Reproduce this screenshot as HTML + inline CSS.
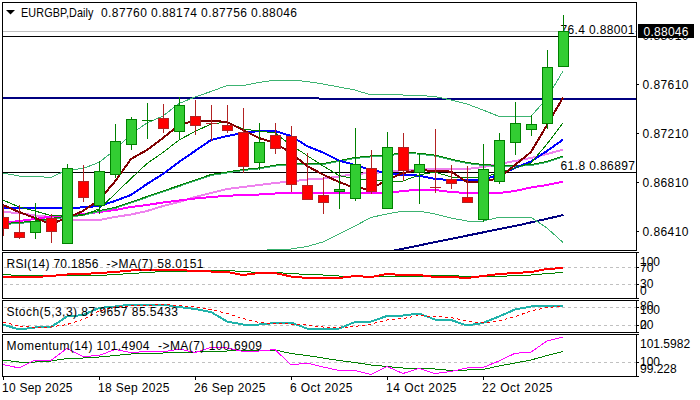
<!DOCTYPE html>
<html><head><meta charset="utf-8"><style>
html,body{margin:0;padding:0;background:#fff;width:700px;height:400px;overflow:hidden}
svg{display:block}
</style></head><body>
<svg width="700" height="400" viewBox="0 0 700 400">
<rect x="0" y="0" width="700" height="400" fill="#fff"/>
<defs><clipPath id="cm"><rect x="3" y="3" width="633" height="247"/></clipPath><clipPath id="cr"><rect x="3" y="253" width="633" height="45"/></clipPath><clipPath id="cs"><rect x="3" y="301" width="633" height="31"/></clipPath><clipPath id="cmo"><rect x="3" y="335" width="633" height="41"/></clipPath></defs><g clip-path="url(#cm)"><rect x="3" y="31" width="633" height="1" fill="#c0c0c0"/><rect x="3" y="36" width="633" height="1" fill="#000"/><rect x="3" y="172" width="633" height="1" fill="#000"/><rect x="3" y="97" width="316" height="2" fill="#000080"/><rect x="319" y="98" width="317" height="2" fill="#000080"/><polyline points="380,253.5 440,241.1 520,224.9 563.5,215" fill="none" stroke="#000080" stroke-width="2" shape-rendering="crispEdges"/><polyline points="3,173 19,176 35,176.5 51,177.4 67,170 83,168.5 99,162.4 115,150 131,134 147,123 163,116 179,103.5 195,97 211,91.5 227,85.5 243,85.5 259,82.5 275,80 291,80 307,81.5 323,84 339,87 355,90 371,95 387,94.4 403,95 419,95.5 435,96.5 451,100 467,104 483,110 499,116.4 515,116.4 531,116.4 547,98 563,71" fill="none" stroke="#3cb371" stroke-width="1" stroke-linejoin="round" shape-rendering="crispEdges"/><polyline points="259,251 275,249 291,249 307,246.5 323,242 339,234 355,226 371,217.4 387,214 403,211 419,211 435,214 451,218 467,221 483,221 499,217.4 515,217.4 531,217.4 547,228 563,242.5" fill="none" stroke="#3cb371" stroke-width="1" stroke-linejoin="round" shape-rendering="crispEdges"/><polyline points="3,212 19,213 35,215.5 51,217 67,219.5 83,220 99,220 115,217 131,214.5 147,211 163,206 179,202 195,197 211,193 227,189 243,187 259,185 275,183 291,181.5 307,179.5 323,178.5 339,176.5 355,174 371,173 387,172 403,170 419,169.5 435,169 451,169 467,169 483,167 499,164 515,161 531,158 547,154 563,149.6" fill="none" stroke="#ee82ee" stroke-width="2" stroke-linejoin="round" shape-rendering="crispEdges"/><polyline points="3,223 19,221 35,219 51,216.5 67,215 83,214 99,212 115,210 131,207 147,205 163,202.5 179,200.5 195,198.5 211,197 227,195.8 243,195 259,194.5 275,193.5 291,193 307,193 323,193 339,193 355,193 371,193 387,193 403,191 419,189.6 435,190 451,192 467,193 483,193 499,193 515,191 531,187.5 547,185 563,181.6" fill="none" stroke="#ff00ff" stroke-width="2" stroke-linejoin="round" shape-rendering="crispEdges"/><polyline points="3,224.5 19,223.5 35,222.0 51,219.5 67,217.0 83,215.5 99,211.5 115,208.5 131,203.0 147,197.5 163,191.9 179,186.5 195,181.0 211,175.5 227,173.0 243,170.5 259,168.9 275,166.1 291,164.5 307,164.9 323,164.5 339,161.5 355,158.5 371,156.9 387,156.1 403,153.5 419,154.1 435,156.1 451,160.1 467,163.5 483,165.5 499,166.5 515,166.5 531,165.5 547,162.5 563,156.9" fill="none" stroke="#3cb371" stroke-width="1" stroke-linejoin="round" shape-rendering="crispEdges"/><polyline points="3,223.5 19,222.5 35,221.0 51,218.5 67,216.0 83,214.5 99,210.5 115,207.5 131,202.0 147,196.5 163,190.9 179,185.5 195,180.0 211,174.5 227,172.0 243,169.5 259,167.9 275,165.1 291,163.5 307,163.9 323,163.5 339,160.5 355,157.5 371,155.9 387,155.1 403,152.5 419,153.1 435,155.1 451,159.1 467,162.5 483,164.5 499,165.5 515,165.5 531,164.5 547,161.5 563,155.9" fill="none" stroke="#008000" stroke-width="1" stroke-linejoin="round" shape-rendering="crispEdges"/><polyline points="3,208 19,208 35,208 51,208.5 67,208 83,207.4 99,206 115,201 131,195 147,184 163,174 179,162 195,151 211,140 227,136 243,133 259,131 275,131 291,136 307,146 323,152.5 339,160.5 355,165 371,170 387,173 403,175 419,175.6 435,179 451,180 467,180 483,179.5 499,175 515,168 531,161.5 547,151 563,139.6" fill="none" stroke="#0000ff" stroke-width="2" stroke-linejoin="round" shape-rendering="crispEdges"/><polyline points="3,200 19,207 35,211 51,215.6 67,215 83,215 99,209 115,194 131,178.5 147,163.5 163,152.5 179,140 195,131.5 211,124 227,122 243,129 259,131 275,133 291,145 307,155.5 323,166 339,175.5 355,179 371,180 387,181 403,181 419,175 435,172 451,177 467,178 483,177 499,173 515,168 531,163 547,144 563,123" fill="none" stroke="#008000" stroke-width="1" stroke-linejoin="round" shape-rendering="crispEdges"/><polyline points="3,205 19,212 35,218 51,224 67,218 83,211 99,200 115,181.5 131,159 147,150 163,138 179,125 195,120.5 211,120.6 227,122 243,130 259,138 275,143 291,153 307,166 323,174.5 339,182 355,188 371,189 387,180 403,173 419,170 435,171 451,171.6 467,182 483,182 499,178 515,165 531,152 547,125 563,97.6" fill="none" stroke="#800000" stroke-width="2" stroke-linejoin="round" shape-rendering="crispEdges"/><rect x="559" y="24" width="76" height="11" fill="#fff"/><text x="560.5" y="34" fill="#000" textLength="74" lengthAdjust="spacing" font-family='"Liberation Sans", sans-serif' font-size="12">76.4 0.88001</text><rect x="559" y="160" width="76" height="11" fill="#fff"/><text x="560.5" y="170" fill="#000" textLength="74.5" lengthAdjust="spacing" font-family='"Liberation Sans", sans-serif' font-size="12">61.8 0.86897</text><rect x="3" y="205" width="1" height="31" fill="#b22222"/><rect x="-2" y="217" width="11" height="12" fill="#b22222"/><rect x="-1" y="218" width="9" height="10" fill="#ff0000"/><rect x="19" y="205" width="1" height="34" fill="#b22222"/><rect x="14" y="232" width="11" height="6" fill="#b22222"/><rect x="15" y="233" width="9" height="4" fill="#ff0000"/><rect x="35" y="203" width="1" height="36" fill="#008000"/><rect x="30" y="221" width="11" height="12" fill="#008000"/><rect x="31" y="222" width="9" height="10" fill="#32cd32"/><rect x="51" y="214" width="1" height="29" fill="#b22222"/><rect x="46" y="218" width="11" height="14" fill="#b22222"/><rect x="47" y="219" width="9" height="12" fill="#ff0000"/><rect x="67" y="164" width="1" height="80" fill="#008000"/><rect x="62" y="168" width="11" height="76" fill="#008000"/><rect x="63" y="169" width="9" height="74" fill="#32cd32"/><rect x="83" y="165" width="1" height="37" fill="#b22222"/><rect x="78" y="181" width="11" height="17" fill="#b22222"/><rect x="79" y="182" width="9" height="15" fill="#ff0000"/><rect x="99" y="161" width="1" height="53" fill="#008000"/><rect x="94" y="171" width="11" height="35" fill="#008000"/><rect x="95" y="172" width="9" height="33" fill="#32cd32"/><rect x="115" y="124" width="1" height="54" fill="#008000"/><rect x="110" y="141" width="11" height="34" fill="#008000"/><rect x="111" y="142" width="9" height="32" fill="#32cd32"/><rect x="131" y="117" width="1" height="33" fill="#008000"/><rect x="126" y="119" width="11" height="26" fill="#008000"/><rect x="127" y="120" width="9" height="24" fill="#32cd32"/><rect x="147" y="103" width="1" height="36" fill="#008000"/><rect x="142" y="120" width="11" height="1" fill="#008000"/><rect x="163" y="104" width="1" height="29" fill="#b22222"/><rect x="158" y="118" width="11" height="11" fill="#b22222"/><rect x="159" y="119" width="9" height="9" fill="#ff0000"/><rect x="179" y="97" width="1" height="43" fill="#008000"/><rect x="174" y="105" width="11" height="27" fill="#008000"/><rect x="175" y="106" width="9" height="25" fill="#32cd32"/><rect x="195" y="100" width="1" height="35" fill="#b22222"/><rect x="190" y="116" width="11" height="10" fill="#b22222"/><rect x="191" y="117" width="9" height="8" fill="#ff0000"/><rect x="211" y="105" width="1" height="36" fill="#b22222"/><rect x="206" y="123" width="11" height="1" fill="#b22222"/><rect x="227" y="105" width="1" height="28" fill="#b22222"/><rect x="222" y="125" width="11" height="6" fill="#b22222"/><rect x="223" y="126" width="9" height="4" fill="#ff0000"/><rect x="243" y="108" width="1" height="65" fill="#b22222"/><rect x="238" y="132" width="11" height="35" fill="#b22222"/><rect x="239" y="133" width="9" height="33" fill="#ff0000"/><rect x="259" y="123" width="1" height="47" fill="#008000"/><rect x="254" y="142" width="11" height="21" fill="#008000"/><rect x="255" y="143" width="9" height="19" fill="#32cd32"/><rect x="275" y="123" width="1" height="31" fill="#b22222"/><rect x="270" y="135" width="11" height="14" fill="#b22222"/><rect x="271" y="136" width="9" height="12" fill="#ff0000"/><rect x="291" y="126" width="1" height="66" fill="#b22222"/><rect x="286" y="136" width="11" height="49" fill="#b22222"/><rect x="287" y="137" width="9" height="47" fill="#ff0000"/><rect x="307" y="153" width="1" height="47" fill="#b22222"/><rect x="302" y="185" width="11" height="15" fill="#b22222"/><rect x="303" y="186" width="9" height="13" fill="#ff0000"/><rect x="323" y="177" width="1" height="37" fill="#b22222"/><rect x="318" y="195" width="11" height="8" fill="#b22222"/><rect x="319" y="196" width="9" height="6" fill="#ff0000"/><rect x="339" y="160" width="1" height="49" fill="#008000"/><rect x="334" y="189" width="11" height="3" fill="#008000"/><rect x="335" y="190" width="9" height="1" fill="#32cd32"/><rect x="355" y="128" width="1" height="73" fill="#008000"/><rect x="350" y="164" width="11" height="35" fill="#008000"/><rect x="351" y="165" width="9" height="33" fill="#32cd32"/><rect x="371" y="150" width="1" height="44" fill="#b22222"/><rect x="366" y="168" width="11" height="24" fill="#b22222"/><rect x="367" y="169" width="9" height="22" fill="#ff0000"/><rect x="387" y="132" width="1" height="77" fill="#008000"/><rect x="382" y="147" width="11" height="62" fill="#008000"/><rect x="383" y="148" width="9" height="60" fill="#32cd32"/><rect x="403" y="133" width="1" height="48" fill="#b22222"/><rect x="398" y="147" width="11" height="24" fill="#b22222"/><rect x="399" y="148" width="9" height="22" fill="#ff0000"/><rect x="419" y="154" width="1" height="50" fill="#008000"/><rect x="414" y="164" width="11" height="9" fill="#008000"/><rect x="415" y="165" width="9" height="7" fill="#32cd32"/><rect x="435" y="129" width="1" height="64" fill="#b22222"/><rect x="430" y="187" width="11" height="1" fill="#b22222"/><rect x="451" y="165" width="1" height="24" fill="#b22222"/><rect x="446" y="179" width="11" height="5" fill="#b22222"/><rect x="447" y="180" width="9" height="3" fill="#ff0000"/><rect x="467" y="166" width="1" height="37" fill="#b22222"/><rect x="462" y="197" width="11" height="6" fill="#b22222"/><rect x="463" y="198" width="9" height="4" fill="#ff0000"/><rect x="483" y="144" width="1" height="78" fill="#008000"/><rect x="478" y="169" width="11" height="51" fill="#008000"/><rect x="479" y="170" width="9" height="49" fill="#32cd32"/><rect x="499" y="133" width="1" height="51" fill="#008000"/><rect x="494" y="140" width="11" height="42" fill="#008000"/><rect x="495" y="141" width="9" height="40" fill="#32cd32"/><rect x="515" y="102" width="1" height="53" fill="#008000"/><rect x="510" y="123" width="11" height="20" fill="#008000"/><rect x="511" y="124" width="9" height="18" fill="#32cd32"/><rect x="531" y="115" width="1" height="21" fill="#008000"/><rect x="526" y="124" width="11" height="6" fill="#008000"/><rect x="527" y="125" width="9" height="4" fill="#32cd32"/><rect x="547" y="50" width="1" height="79" fill="#008000"/><rect x="542" y="67" width="11" height="57" fill="#008000"/><rect x="543" y="68" width="9" height="55" fill="#32cd32"/><rect x="563" y="15" width="1" height="52" fill="#008000"/><rect x="558" y="31" width="11" height="36" fill="#008000"/><rect x="559" y="32" width="9" height="34" fill="#32cd32"/></g><rect x="2" y="2" width="635" height="1" fill="#000"/><rect x="2" y="250" width="635" height="1" fill="#000"/><rect x="2" y="2" width="1" height="249" fill="#000"/><rect x="636" y="2" width="1" height="249" fill="#000"/><g clip-path="url(#cr)"><line x1="4" y1="267.5" x2="636" y2="267.5" stroke="#c0c0c0" stroke-width="1" stroke-dasharray="3,3" shape-rendering="crispEdges"/><line x1="4" y1="284.5" x2="636" y2="284.5" stroke="#c0c0c0" stroke-width="1" stroke-dasharray="3,3" shape-rendering="crispEdges"/><polyline points="3,274.5 19,275.5 35,275.5 51,275.5 67,275.5 83,275.5 99,275.5 115,274.5 131,273.5 147,272.5 163,271.5 179,271.5 195,270.5 211,270.5 227,270.5 243,271.5 259,272.5 275,272.5 291,273.5 307,274.5 323,275 339,276 355,276.5 371,276.5 387,276.5 403,276.5 419,276.5 435,275.5 451,275.5 467,276.5 483,276.5 499,276.5 515,275.5 531,275 547,273.5 563,272.5" fill="none" stroke="#008000" stroke-width="1" stroke-linejoin="round" shape-rendering="crispEdges"/><polyline points="3,277 19,277 35,277 51,276 67,274.5 83,274 99,273 115,272 131,270.5 147,270 163,270 179,270 195,271 211,271.5 227,272 243,275 259,273 275,273 291,276.5 307,278 323,278 339,278 355,276 371,277 387,274 403,275 419,275 435,277 451,277 467,278 483,276 499,274 515,273 531,272 547,269 563,268" fill="none" stroke="#ff0000" stroke-width="2" stroke-linejoin="round" shape-rendering="crispEdges"/></g><rect x="2" y="252" width="635" height="1" fill="#000"/><rect x="2" y="298" width="635" height="1" fill="#000"/><rect x="2" y="252" width="1" height="47" fill="#000"/><rect x="636" y="252" width="1" height="47" fill="#000"/><g clip-path="url(#cs)"><line x1="4" y1="307.5" x2="636" y2="307.5" stroke="#c0c0c0" stroke-width="1" stroke-dasharray="3,3" shape-rendering="crispEdges"/><line x1="4" y1="325.5" x2="636" y2="325.5" stroke="#c0c0c0" stroke-width="1" stroke-dasharray="3,3" shape-rendering="crispEdges"/><polyline points="3,324.5 19,329.5 35,327.5 51,327 67,316.5 83,315 99,308 115,306.5 131,304.5 147,304.5 163,304.5 179,307 195,309 211,312 227,321.5 243,324.5 259,324.5 275,323 291,322.5 307,328.5 323,328.5 339,328.5 355,322 371,321.5 387,316 403,315.5 419,313.5 435,319.5 451,320 467,325.5 483,323 499,316.5 515,309.5 531,306.5 547,306 563,306" fill="none" stroke="#20b2aa" stroke-width="2" stroke-linejoin="round" shape-rendering="crispEdges"/><polyline points="3,322 19,326 35,327.5 51,327 67,324.5 83,319.5 99,311 115,307 131,306 147,305.3 163,304.5 179,305.5 195,307 211,309.5 227,313.5 243,318.5 259,322.5 275,323.5 291,324 307,325 323,327 339,328 355,326.5 371,324 387,320 403,318.5 419,315.5 435,316.5 451,317.5 467,321 483,323 499,321 515,316.7 531,311 547,307.4 563,306.4" fill="none" stroke="#ff0000" stroke-width="1" stroke-linejoin="round" shape-rendering="crispEdges" stroke-dasharray="3,3"/></g><rect x="2" y="300" width="635" height="1" fill="#000"/><rect x="2" y="332" width="635" height="1" fill="#000"/><rect x="2" y="300" width="1" height="33" fill="#000"/><rect x="636" y="300" width="1" height="33" fill="#000"/><g clip-path="url(#cmo)"><line x1="4" y1="362.5" x2="636" y2="362.5" stroke="#c0c0c0" stroke-width="1" stroke-dasharray="3,3" shape-rendering="crispEdges"/><polyline points="3,360 19,362 35,362 51,361 67,358.5 83,358 99,357 115,355.5 131,354 147,353.5 163,353 179,352 195,352 211,351 227,351 243,350.5 259,350 275,350 291,353.5 307,355.5 323,358 339,360.5 355,362.5 371,365 387,366.5 403,368 419,368.5 435,369 451,370.5 467,370 483,369.5 499,366 515,363 531,360 547,355.5 563,351.5" fill="none" stroke="#008000" stroke-width="1" stroke-linejoin="round" shape-rendering="crispEdges"/><polyline points="3,364.5 19,368 35,360 51,360.5 67,348.5 83,356.5 99,355.5 115,349.5 131,352.5 147,351.5 163,352 179,349 195,352.5 211,347.5 227,348 243,351.5 259,351 275,349.5 291,365 307,363 323,367 339,370.5 355,370.5 371,374.5 387,366.5 403,373.5 419,368.5 435,373.5 451,371.5 467,368 483,367.5 499,361 515,353.3 531,352 547,341 563,337" fill="none" stroke="#ff00ff" stroke-width="1" stroke-linejoin="round" shape-rendering="crispEdges"/></g><rect x="2" y="334" width="635" height="1" fill="#000"/><rect x="2" y="376" width="635" height="1" fill="#000"/><rect x="2" y="334" width="1" height="43" fill="#000"/><rect x="636" y="334" width="1" height="43" fill="#000"/><rect x="637" y="84" width="2" height="1" fill="#000"/><rect x="637" y="133" width="2" height="1" fill="#000"/><rect x="637" y="182" width="2" height="1" fill="#000"/><rect x="637" y="231" width="2" height="1" fill="#000"/><rect x="637" y="252" width="2" height="1" fill="#000"/><rect x="637" y="267" width="2" height="1" fill="#000"/><rect x="637" y="284" width="2" height="1" fill="#000"/><rect x="637" y="298" width="2" height="1" fill="#000"/><rect x="637" y="300" width="2" height="1" fill="#000"/><rect x="637" y="307" width="2" height="1" fill="#000"/><rect x="637" y="325" width="2" height="1" fill="#000"/><rect x="637" y="332" width="2" height="1" fill="#000"/><rect x="637" y="334" width="2" height="1" fill="#000"/><rect x="637" y="362" width="2" height="1" fill="#000"/><rect x="637" y="376" width="2" height="1" fill="#000"/><rect x="3" y="377" width="1" height="3" fill="#000"/><rect x="99" y="377" width="1" height="3" fill="#000"/><rect x="195" y="377" width="1" height="3" fill="#000"/><rect x="291" y="377" width="1" height="3" fill="#000"/><rect x="387" y="377" width="1" height="3" fill="#000"/><rect x="483" y="377" width="1" height="3" fill="#000"/><g font-family='"Liberation Sans", sans-serif' font-size="12"><path d="M6,10 L15,10 L10.5,14.5 Z" fill="#000"/><g transform="translate(21,17) scale(0.9,1)"><text x="0" y="0" fill="#000" textLength="80.55555555555556" lengthAdjust="spacing" xml:space="preserve" text-anchor="start">EURGBP,Daily</text></g><text x="101" y="17" fill="#000" textLength="196" lengthAdjust="spacing" xml:space="preserve" text-anchor="start">0.87760 0.88174 0.87756 0.88046</text><text x="6.5" y="268" fill="#000" textLength="92" lengthAdjust="spacing" xml:space="preserve" text-anchor="start">RSI(14) 70.1856</text><text x="106.5" y="268" fill="#000" textLength="97" lengthAdjust="spacing" xml:space="preserve" text-anchor="start">-&gt;MA(7) 58.0151</text><text x="6.5" y="316" fill="#000" textLength="171.5" lengthAdjust="spacing" xml:space="preserve" text-anchor="start">Stoch(5,3,3) 87.9657 85.5433</text><text x="6.5" y="350" fill="#000" textLength="143" lengthAdjust="spacing" xml:space="preserve" text-anchor="start">Momentum(14) 101.4904</text><text x="158" y="350" fill="#000" textLength="104" lengthAdjust="spacing" xml:space="preserve" text-anchor="start">-&gt;MA(7) 100.6909</text><text x="642.5" y="40" fill="#000" textLength="46" lengthAdjust="spacing" xml:space="preserve" text-anchor="start">0.88010</text><rect x="638" y="24" width="56" height="14" fill="#000"/><text x="643.5" y="36" fill="#fff" textLength="45" lengthAdjust="spacing" xml:space="preserve" text-anchor="start">0.88046</text><text x="642.5" y="89" fill="#000" textLength="46" lengthAdjust="spacing" xml:space="preserve" text-anchor="start">0.87610</text><text x="642.5" y="138" fill="#000" textLength="46" lengthAdjust="spacing" xml:space="preserve" text-anchor="start">0.87210</text><text x="642.5" y="187" fill="#000" textLength="46" lengthAdjust="spacing" xml:space="preserve" text-anchor="start">0.86810</text><text x="642.5" y="236" fill="#000" textLength="46" lengthAdjust="spacing" xml:space="preserve" text-anchor="start">0.86410</text><text x="640" y="266" text-anchor="start" fill="#000" >100</text><text x="640" y="272" text-anchor="start" fill="#000" >70</text><text x="640" y="288" text-anchor="start" fill="#000" >30</text><text x="640" y="295" text-anchor="start" fill="#000" >0</text><text x="640" y="310" text-anchor="start" fill="#000" >80</text><text x="640" y="314" text-anchor="start" fill="#000" >100</text><text x="640" y="329" text-anchor="start" fill="#000" >20</text><text x="640" y="329" text-anchor="start" fill="#000" >0</text><text x="640" y="348" text-anchor="start" fill="#000" >101.5982</text><text x="640" y="366" text-anchor="start" fill="#000" >100</text><text x="640" y="373" text-anchor="start" fill="#000" >99.228</text><text x="2" y="392" fill="#000" textLength="70.5" lengthAdjust="spacing" xml:space="preserve" text-anchor="start">10 Sep 2025</text><text x="98" y="392" fill="#000" textLength="71.5" lengthAdjust="spacing" xml:space="preserve" text-anchor="start">18 Sep 2025</text><text x="194" y="392" fill="#000" textLength="71.5" lengthAdjust="spacing" xml:space="preserve" text-anchor="start">26 Sep 2025</text><text x="290" y="392" fill="#000" textLength="62.5" lengthAdjust="spacing" xml:space="preserve" text-anchor="start">6 Oct 2025</text><text x="386" y="392" fill="#000" textLength="70.5" lengthAdjust="spacing" xml:space="preserve" text-anchor="start">14 Oct 2025</text><text x="482" y="392" fill="#000" textLength="70.5" lengthAdjust="spacing" xml:space="preserve" text-anchor="start">22 Oct 2025</text></g>
</svg>
</body></html>
